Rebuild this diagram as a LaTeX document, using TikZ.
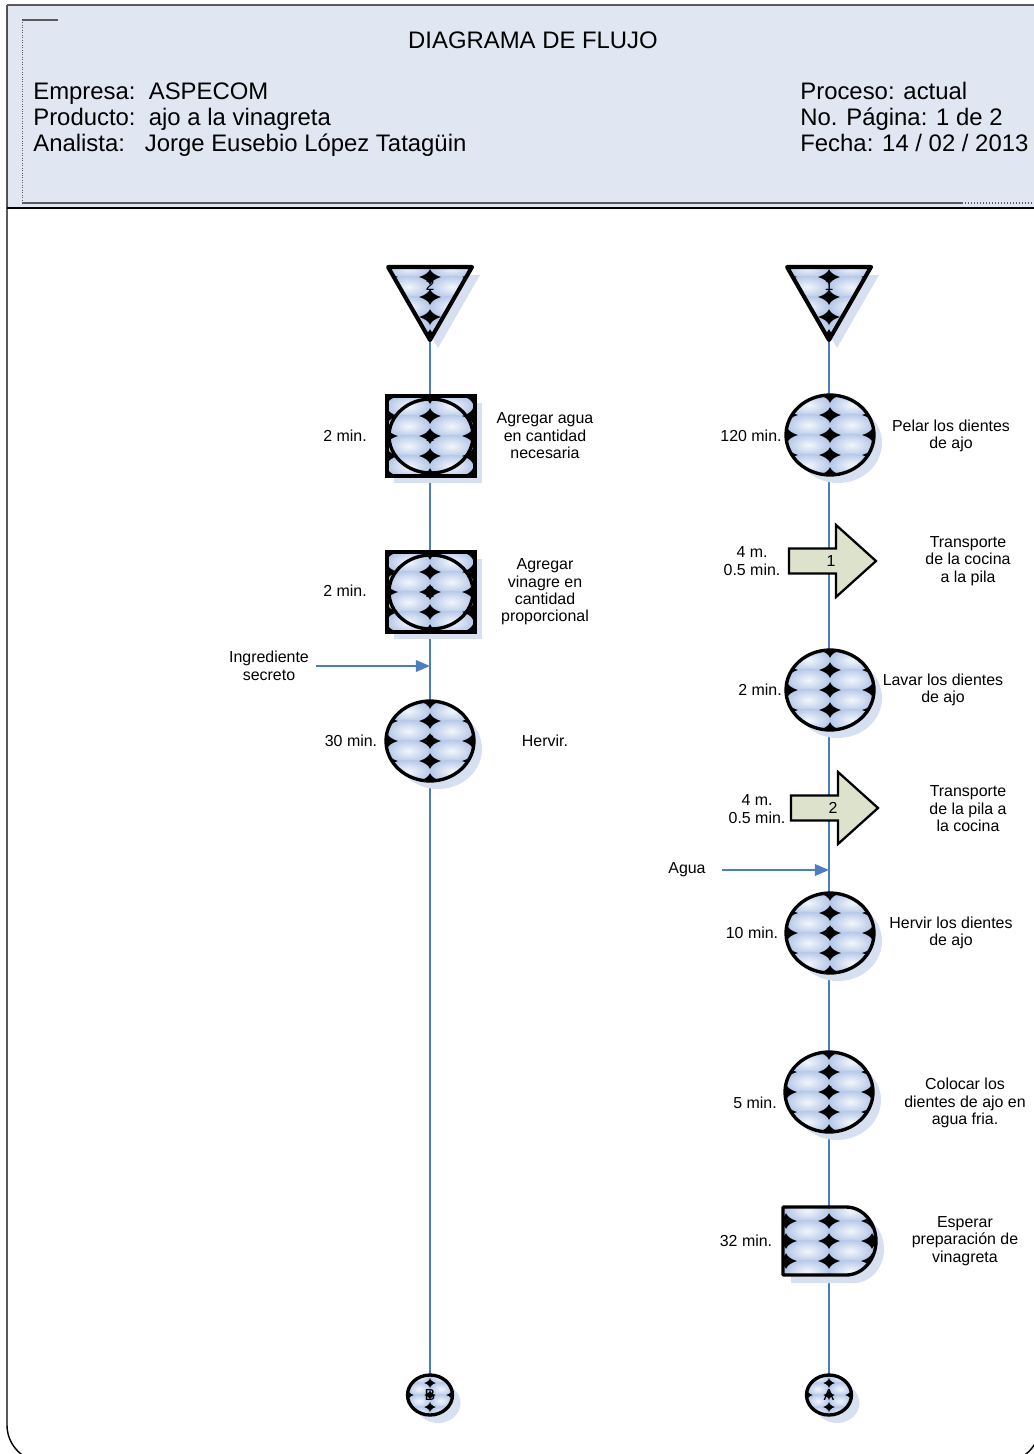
\documentclass[tikz,border=0pt]{standalone}
\usepackage{fontspec}
\setmainfont{Liberation Sans}
\usetikzlibrary{arrows.meta}

\definecolor{hdrfill}{RGB}{224,231,242}
\definecolor{flowblue}{RGB}{74,126,192}
\definecolor{shadowblue}{RGB}{214,224,240}
\definecolor{bubhi}{RGB}{242,246,252}
\definecolor{bublo}{RGB}{182,200,232}
\definecolor{transfill}{RGB}{221,226,204}
\definecolor{framegray}{RGB}{90,90,90}

% bubble texture: black ground with a grid of shaded ellipses
% #1 centre (coordinate name), #2 column pitch, #3 row pitch
\newcommand{\bubbles}[3]{%
  \fill[black] ([shift={(-100,-100)}]#1) rectangle ([shift={(100,100)}]#1);
  \foreach \bx in {-1.5,-0.5,0.5,1.5}{%
    \foreach \by in {-3.5,-2.5,-1.5,-0.5,0.5,1.5,2.5,3.5}{%
      \shade[inner color=bubhi, outer color=bublo]
        ([shift={({\bx*#2},{\by*#3})}]#1) ellipse [x radius={0.505*#2}, y radius={0.565*#3}];
    }}}

% operation: circle
\newcommand{\opcircle}[3]{%
  \coordinate (#1) at #2;
  \fill[shadowblue] ([shift={(8,8)}]#1) ellipse [x radius=44, y radius=40];
  \begin{scope}
    \clip (#1) ellipse [x radius=44, y radius=40];
    \bubbles{#1}{43}{20}
  \end{scope}
  \draw[symline] (#1) ellipse [x radius=44, y radius=40];
  \node[num] (#1-n) at (#1) {#3};
}

% combined operation / inspection: circle inside a square
\newcommand{\opinsp}[3]{%
  \coordinate (#1) at #2;
  \fill[shadowblue] ([shift={(-36,-33)}]#1) rectangle ([shift={(52,47)}]#1);
  \begin{scope}
    \clip ([shift={(-43,-40)}]#1) rectangle ([shift={(45,40)}]#1);
    \bubbles{#1}{43}{20}
  \end{scope}
  \draw[symline] ([shift={(-43,-40)}]#1) rectangle ([shift={(45,40)}]#1);
  \draw[symline] ([shift={(1,0)}]#1) ellipse [x radius=42, y radius=37];
  \node[num] (#1-n) at (#1) {#3};
}

% storage: inverted triangle, #2 is the top centre
\newcommand{\storage}[3]{%
  \coordinate (#1) at #2;
  \coordinate (#1-mid) at ([shift={(0,30)}]#1);
  \fill[shadowblue] ([shift={(-34,8)}]#1) -- ([shift={(50,8)}]#1) -- ([shift={(8,81)}]#1) -- cycle;
  \begin{scope}
    \clip ([shift={(-42,0)}]#1) -- ([shift={(42,0)}]#1) -- ([shift={(0,73)}]#1) -- cycle;
    \bubbles{#1-mid}{43}{20}
  \end{scope}
  \draw[symline, line width=2.3pt, line join=round]
    ([shift={(-42,0)}]#1) -- ([shift={(42,0)}]#1) -- ([shift={(0,73)}]#1) -- cycle;
  \node[num] (#1-n) at ([shift={(0,18)}]#1) {#3};
}

% transport: block arrow, #2 is the point on the flow line
\newcommand{\transport}[3]{%
  \coordinate (#1) at #2;
  \draw[tline, fill=transfill, line join=miter]
    ([shift={(-40,-12.5)}]#1) -- ([shift={(7,-12.5)}]#1) -- ([shift={(7,-36)}]#1)
    -- ([shift={(47,0)}]#1) -- ([shift={(7,36)}]#1) -- ([shift={(7,12.5)}]#1)
    -- ([shift={(-40,12.5)}]#1) -- cycle;
  \node[num] (#1-n) at ([shift={(2,0)}]#1) {#3};
}

% delay: D shape
\newcommand{\delaysym}[2]{%
  \coordinate (#1) at #2;
  \fill[shadowblue] ([shift={(-38,-26)}]#1) -- ([shift={(25,-26)}]#1)
    arc[start angle=-90, end angle=90, x radius=30, y radius=34]
    -- ([shift={(-38,42)}]#1) -- cycle;
  \begin{scope}
    \clip ([shift={(-46,-34)}]#1) -- ([shift={(17,-34)}]#1)
      arc[start angle=-90, end angle=90, x radius=30, y radius=34]
      -- ([shift={(-46,34)}]#1) -- cycle;
    \bubbles{#1}{43}{20}
  \end{scope}
  \draw[symline, line join=round] ([shift={(-46,-34)}]#1) -- ([shift={(17,-34)}]#1)
    arc[start angle=-90, end angle=90, x radius=30, y radius=34]
    -- ([shift={(-46,34)}]#1) -- cycle;
}

% off-page connector: small circle
\newcommand{\pageconn}[3]{%
  \coordinate (#1) at #2;
  \fill[shadowblue] ([shift={(8,8)}]#1) ellipse [x radius=22.5, y radius=20];
  \begin{scope}
    \clip (#1) ellipse [x radius=22.5, y radius=20];
    \bubbles{#1}{22}{12}
  \end{scope}
  \draw[symline] (#1) ellipse [x radius=22.5, y radius=20];
  \node[num] (#1-n) at (#1) {#3};
}

\begin{document}
\begin{tikzpicture}[x=0.02cm, y=-0.02cm,
  symline/.style={draw=black, line width=1.9pt},
  tline/.style={draw=black, line width=1.3pt},
  flow/.style={draw=flowblue, line width=1.15pt},
  feed/.style={flow, -{Triangle[length=8pt, width=6.5pt]}},
  num/.style={font=\fontsize{9.07pt}{9.9pt}\selectfont, inner sep=0pt},
  txt/.style={font=\fontsize{9.07pt}{9.92pt}\selectfont, align=center, inner sep=0pt},
  hdr/.style={font=\fontsize{13.6pt}{14.7pt}\selectfont, inner sep=0pt, anchor=base west}]

\useasboundingbox (0,0) rectangle (1034,1454);

% ---------- page frame and header ----------
\begin{scope}
  \clip (0,0) rectangle (1034,1454);
  \fill[hdrfill] (7,5) rectangle (1040,208);
  \draw[black, line width=0.8pt] (7,5) [rounded corners=0.74cm]
    -- (7,1462) -- (1040,1462) -- (1040,5);
  \draw[framegray, line width=0.8pt] (7,5) -- (1040,5);
  \draw[black, line width=1.1pt] (7,208) -- (1040,208);
\end{scope}
\draw[framegray, line width=0.6pt] (22,20) -- (58,20);
\draw[framegray, line width=0.4pt, densely dotted] (22,20) -- (22,203);
\draw[framegray, line width=0.7pt] (22,203) -- (962,203);
\draw[framegray, line width=0.7pt, densely dotted] (962,203) -- (1032,203);

\node[hdr, anchor=base] (title) at (533,48) {DIAGRAMA DE FLUJO};
\node[hdr] (empresa)  at (33,99)  {Empresa:\ \ ASPECOM};
\node[hdr] (producto) at (33,125) {Producto:\ \ ajo a la vinagreta};
\node[hdr] (analista) at (33,151) {Analista:\ \ \ Jorge Eusebio López Tatagüin};
\node[hdr] (proceso)  at (800,99)  {Proceso: actual};
\node[hdr] (pagina)   at (800,125) {No. Página: 1 de 2};
\node[hdr] (fecha)    at (800,151) {Fecha: 14 / 02 / 2013};

% ---------- flow lines ----------
\coordinate (L-top) at (430,267);
\coordinate (L-end) at (430,1395);
\coordinate (R-top) at (829,267);
\coordinate (R-end) at (829,1395);
\draw[flow] (L-top) -- (L-end);
\draw[flow] (R-top) -- (R-end);

\coordinate (ingr-s) at (316,666);
\coordinate (ingr-e) at (430,666);
\draw[feed] (ingr-s) -- (ingr-e);
\coordinate (agua-s) at (722,870);
\coordinate (agua-e) at (829,870);
\draw[feed] (agua-s) -- (agua-e);

% ---------- left column ----------
\storage{st2}{(430,267)}{2}
\opinsp{oi1}{(430,436)}{1}
\opinsp{oi2}{(430,592)}{2}
\opcircle{op6}{(430,741)}{6}
\pageconn{conB}{(430,1395)}{B}

\node[txt] (t-oi1) at (345,436) {2 min.};
\node[txt] (d-oi1) at (545,436) {Agregar agua\\en cantidad\\necesaria};
\node[txt] (t-oi2) at (345,591) {2 min.};
\node[txt] (d-oi2) at (545,592) {Agregar\\vinagre en\\cantidad\\proporcional};
\node[txt] (ingr)  at (269,666) {Ingrediente\\secreto};
\node[txt] (t-op6) at (351,741) {30 min.};
\node[txt] (d-op6) at (545,741) {Hervir.};

% ---------- right column ----------
\storage{st1}{(829,267)}{1}
\opcircle{op1}{(830,435)}{}
\transport{tr1}{(829,561)}{1}
\opcircle{op2}{(830,690)}{}
\transport{tr2}{(831,808)}{2}
\opcircle{op3}{(830,933)}{3}
\opcircle{op4}{(829,1092)}{4}
\delaysym{de1}{(829,1241)}
\pageconn{conA}{(829,1395)}{A}

\node[txt] (t-op1) at (751,436) {120 min.};
\node[txt] (d-op1) at (951,436) {Pelar los dientes\\de ajo};
\node[txt] (t-tr1) at (752,561) {4 m.\\0.5 min.};
\node[txt] (d-tr1) at (968,561) {Transporte\\de la cocina\\a la pila};
\node[txt] (t-op2) at (760,690) {2 min.};
\node[txt] (d-op2) at (943,690) {Lavar los dientes\\de ajo};
\node[txt] (t-tr2) at (757,809) {4 m.\\0.5 min.};
\node[txt] (d-tr2) at (968,809) {Transporte\\de la pila a\\la cocina};
\node[txt] (agua)  at (687,870) {Agua};
\node[txt] (t-op3) at (752,933) {10 min.};
\node[txt] (d-op3) at (951,933) {Hervir los dientes\\de ajo};
\node[txt] (t-op4) at (755,1103) {5 min.};
\node[txt] (d-op4) at (965,1103) {Colocar los\\dientes de ajo en\\agua fria.};
\node[txt] (t-de1) at (746,1241) {32 min.};
\node[txt] (d-de1) at (965,1241) {Esperar\\preparación de\\vinagreta};

\end{tikzpicture}
\end{document}
